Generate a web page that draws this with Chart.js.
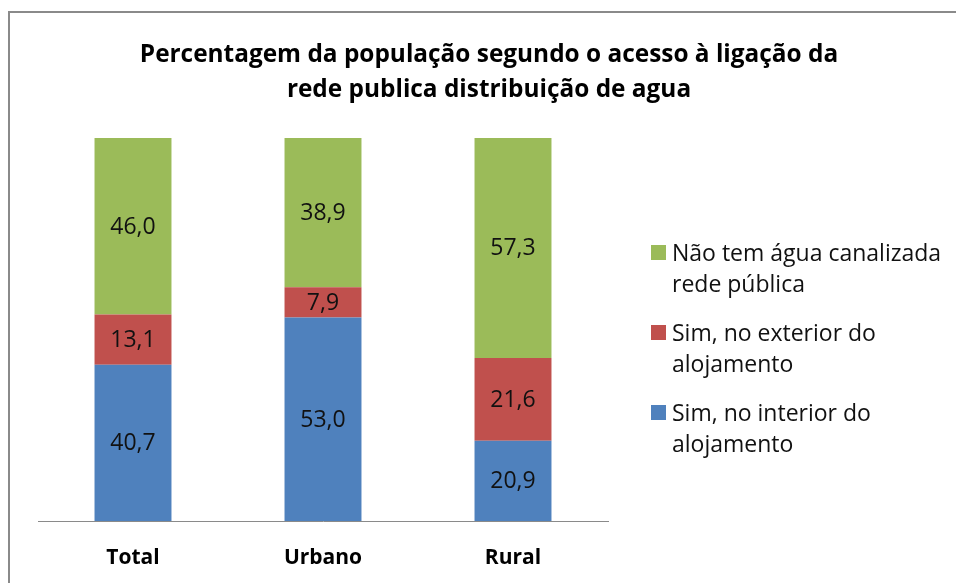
<!DOCTYPE html>
<html><head><meta charset="utf-8">
<script src="https://cdn.jsdelivr.net/npm/chart.js@4.4.0/dist/chart.umd.min.js"></script>
<style>
html,body{margin:0;padding:0;background:#fff;}
#wrap{position:relative;width:956px;height:583px;overflow:hidden;font-family:"Open Sans",sans-serif;}
#frame{position:absolute;left:8px;top:11px;width:1000px;height:700px;border-left:2px solid #8a8a8a;border-top:2px solid #8a8a8a;}
#title{position:absolute;left:40px;width:898px;top:35px;text-align:center;font-weight:bold;font-size:24.4px;line-height:35px;color:#000;}
#legend{position:absolute;left:651px;top:237px;font-size:23px;line-height:31px;color:#111;}
.li{position:relative;padding-left:21px;margin-bottom:18px;}
.sw{position:absolute;left:0;top:8px;width:15px;height:15px;}
canvas{position:absolute;left:0;top:0;}
</style></head>
<body><div id="wrap">
<div id="frame"></div>
<canvas id="c" width="956" height="583"></canvas>
<div id="title">Percentagem da população segundo o acesso à ligação da<br>rede publica distribuição de agua</div>
<div id="legend"></div>
</div>
<script>
const categories = ["Total", "Urbano", "Rural"];
const interior = [40.7, 53.0, 20.9];
const exterior = [13.1, 7.9, 21.6];
const semAgua = [46.0, 38.9, 57.3];
const seriesNames = ["Sim, no interior do alojamento", "Sim, no exterior do alojamento", "Não tem água canalizada rede pública"];
const legendLines = [["Não tem água canalizada", "rede pública"], ["Sim, no exterior do", "alojamento"], ["Sim, no interior do", "alojamento"]];
const colors = ["#4F81BD", "#C0504D", "#9BBB59"];

const totals = categories.map((_, i) => interior[i] + exterior[i] + semAgua[i]);
const yMax = Math.max(...totals);

const labelPlugin = {
  id: 'segLabels',
  afterDatasetsDraw(chart) {
    const ctx = chart.ctx;
    ctx.save();
    ctx.font = '23px "Open Sans", sans-serif';
    ctx.fillStyle = '#111';
    ctx.textAlign = 'center';
    ctx.textBaseline = 'middle';
    chart.data.datasets.forEach((ds, di) => {
      const meta = chart.getDatasetMeta(di);
      meta.data.forEach((el, i) => {
        const v = ds.data[i];
        const yc = (el.y + el.base) / 2 + 1;
        ctx.fillText(v.toFixed(1).replace('.', ','), el.x, yc);
      });
    });
    ctx.restore();
  }
};

new Chart(document.getElementById('c'), {
  type: 'bar',
  data: {
    labels: categories,
    datasets: [
      { label: seriesNames[0], data: interior, backgroundColor: colors[0] },
      { label: seriesNames[1], data: exterior, backgroundColor: colors[1] },
      { label: seriesNames[2], data: semAgua, backgroundColor: colors[2] }
    ]
  },
  options: {
    responsive: false,
    animation: false,
    layout: { padding: { left: 38, right: 348, top: 138, bottom: 0 } },
    datasets: { bar: { barPercentage: 1, categoryPercentage: 0.405 } },
    plugins: { legend: { display: false }, title: { display: false }, tooltip: { enabled: false } },
    scales: {
      x: {
        stacked: true,
        grid: { display: false },
        border: { display: true, color: '#8a8a8a', width: 1 },
        ticks: { font: { family: '"Open Sans", sans-serif', size: 21, weight: 'bold' }, color: '#000', padding: 16 },
        afterFit(scale) { scale.height = 62; }
      },
      y: { stacked: true, display: false, min: 0, max: yMax }
    }
  },
  plugins: [labelPlugin]
});

const lg = document.getElementById('legend');
[2, 1, 0].forEach((si, k) => {
  const d = document.createElement('div');
  d.className = 'li';
  d.innerHTML = '<span class="sw" style="background:' + colors[si] + '"></span>' + legendLines[k].join('<br>');
  lg.appendChild(d);
});
</script>
</body></html>
